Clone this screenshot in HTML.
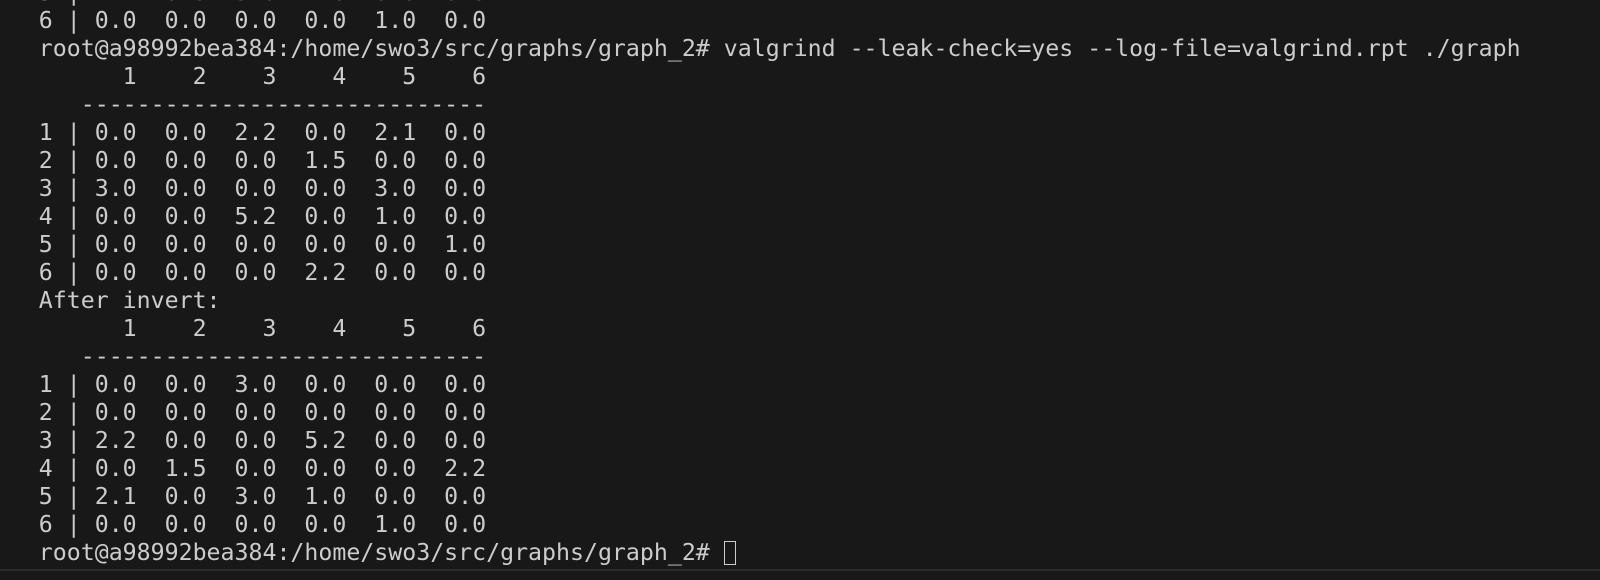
<!DOCTYPE html>
<html><head><meta charset="utf-8"><style>
html,body{margin:0;padding:0;background:#181818;width:1600px;height:580px;overflow:hidden;position:relative}
pre{position:absolute;left:38.8px;top:-20.6px;margin:0;font-family:"DejaVu Sans Mono","Liberation Mono",monospace;font-size:23.22px;line-height:27.98px;color:#cccccc;white-space:pre}
.cur{display:inline-block;width:12px;height:24px;border:1.5px solid #cccccc;vertical-align:-5px;box-sizing:border-box}
.sep{position:absolute;left:0;top:569px;width:1600px;height:2px;background:#2b2b2b}
</style></head><body>
<pre>5 | 2.1  0.0  3.0  1.0  0.0  0.0
6 | 0.0  0.0  0.0  0.0  1.0  0.0
root@a98992bea384:/home/swo3/src/graphs/graph_2# valgrind --leak-check=yes --log-file=valgrind.rpt ./graph
      1    2    3    4    5    6
   -----------------------------
1 | 0.0  0.0  2.2  0.0  2.1  0.0
2 | 0.0  0.0  0.0  1.5  0.0  0.0
3 | 3.0  0.0  0.0  0.0  3.0  0.0
4 | 0.0  0.0  5.2  0.0  1.0  0.0
5 | 0.0  0.0  0.0  0.0  0.0  1.0
6 | 0.0  0.0  0.0  2.2  0.0  0.0
After invert:
      1    2    3    4    5    6
   -----------------------------
1 | 0.0  0.0  3.0  0.0  0.0  0.0
2 | 0.0  0.0  0.0  0.0  0.0  0.0
3 | 2.2  0.0  0.0  5.2  0.0  0.0
4 | 0.0  1.5  0.0  0.0  0.0  2.2
5 | 2.1  0.0  3.0  1.0  0.0  0.0
6 | 0.0  0.0  0.0  0.0  1.0  0.0
root@a98992bea384:/home/swo3/src/graphs/graph_2# <span class="cur"></span></pre>
<div class="sep"></div>
</body></html>
